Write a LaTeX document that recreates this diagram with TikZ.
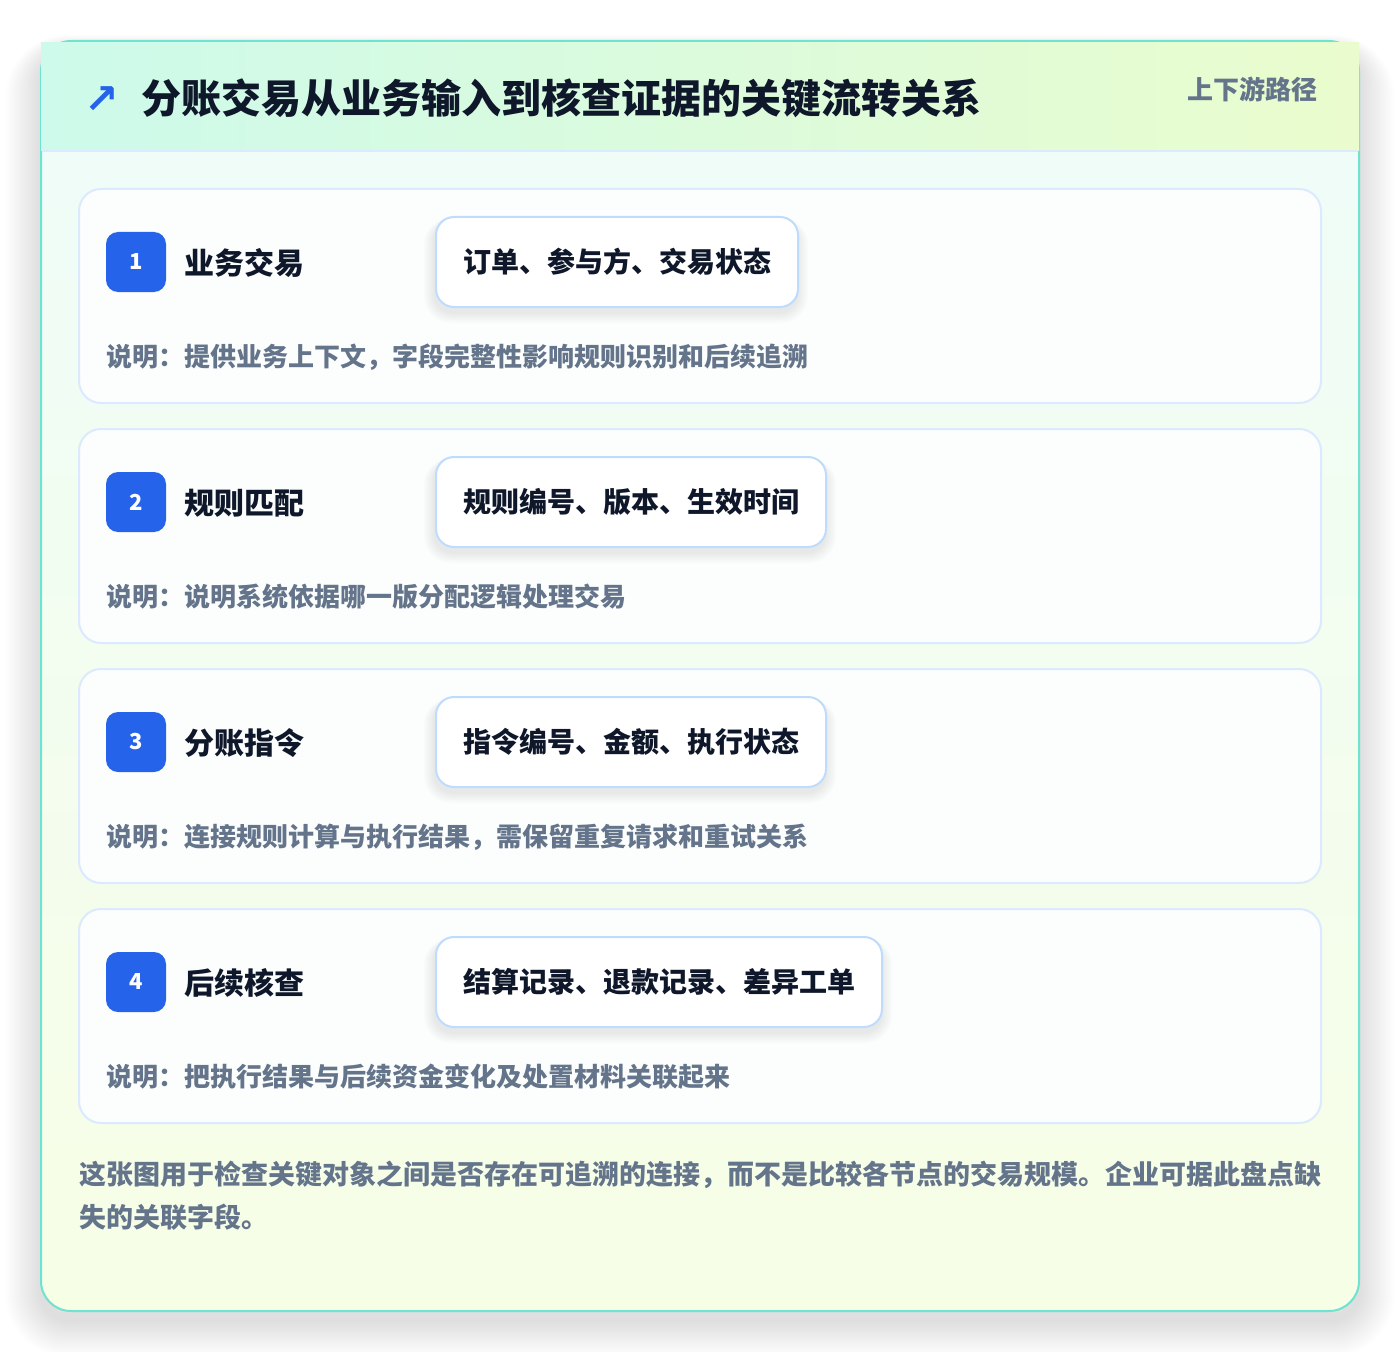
\documentclass[tikz,border=0pt]{standalone}
\usepackage{fontspec}
\newfontfamily\cjk{Noto Sans CJK SC}
\newfontfamily\sym{DejaVu Sans}
\definecolor{titlec}{HTML}{0F172A}
\definecolor{muted}{HTML}{64748B}
\definecolor{badgec}{HTML}{2563EB}
\definecolor{cardb}{HTML}{DBEAFE}
\definecolor{pillb}{HTML}{BFDBFE}
\definecolor{outerb}{HTML}{6EE3D0}
\definecolor{hdl}{HTML}{CDFAEB}
\definecolor{hdr}{HTML}{EAFCCD}
\definecolor{bodyt}{HTML}{EFFCF9}
\definecolor{bodyb}{HTML}{F7FEE6}
\definecolor{cardfill}{HTML}{FCFEFD}
\definecolor{shadowc}{HTML}{1E293B}
\tikzset{
  card/.style={draw=cardb, line width=1.5pt, fill=cardfill, rounded corners=16.5pt},
  badge/.style={fill=badgec, rounded corners=9pt, minimum width=45pt, minimum height=45pt, inner sep=0pt,
    text=white, font=\cjk\bfseries\fontsize{16.5}{18}\selectfont},
  label/.style={anchor=west, inner sep=0pt, text=titlec, font=\cjk\bfseries\fontsize{22.5}{26}\selectfont},
  pill/.style={anchor=west, draw=pillb, line width=1.5pt, fill=white, rounded corners=13.5pt,
    minimum height=67.5pt, inner xsep=20.25pt, inner ysep=0pt, text=titlec,
    font=\cjk\bfseries\fontsize{21}{24}\selectfont},
  desc/.style={anchor=west, inner sep=0pt, text=muted, font=\cjk\bfseries\fontsize{19.5}{22}\selectfont},
  foot/.style={anchor=west, inner sep=0pt, text=muted, font=\cjk\bfseries\fontsize{20.25}{24}\selectfont},
}
\begin{document}
\begin{tikzpicture}[x=0.75pt,y=-0.75pt]
\useasboundingbox (0,0) rectangle (1400,1352);
\fill[white] (0,0) rectangle (1400,1352);
% outer card soft shadow
\foreach \i in {1,...,16}{
  \fill[shadowc, opacity=0.007, rounded corners=22.5pt+\i*1.5pt]
    (41-\i*2.2,41+10-\i*1.0) rectangle (1359+\i*2.2,1311+10+\i*2.2);
}
\path[top color=bodyt, bottom color=bodyb, rounded corners=22.5pt] (41,41) rectangle (1359,1311);
\draw[outerb, line width=1.5pt, rounded corners=22.5pt] (41,41) rectangle (1359,1311);
% header band
\path[left color=hdl, right color=hdr] (41,42.5) rectangle (1359,151);
\draw[cardb, line width=1.2pt] (41.8,151) -- (1358.2,151);
\node[anchor=center, inner sep=0pt, text=badgec, font=\sym\bfseries\fontsize{31}{33}\selectfont] (icon) at (102,100) {↗};
\node[anchor=west, inner sep=0pt, text=titlec, font=\cjk\bfseries\fontsize{30}{36}\selectfont] (title) at (141,98) {分账交易从业务输入到核查证据的关键流转关系};
\node[anchor=east, inner sep=0pt, text=muted, font=\cjk\bfseries\fontsize{19.5}{22}\selectfont] (tag) at (1318,89) {上下游路径};
% cards
\foreach \n/\dy/\pw/\lab/\pilltext/\desctext in {
  1/0/362/业务交易/订单、参与方、交易状态/说明：提供业务上下文，字段完整性影响规则识别和后续追溯,
  2/240/390/规则匹配/规则编号、版本、生效时间/说明：说明系统依据哪一版分配逻辑处理交易,
  3/480/390/分账指令/指令编号、金额、执行状态/说明：连接规则计算与执行结果，需保留重复请求和重试关系,
  4/720/446/后续核查/结算记录、退款记录、差异工单/说明：把执行结果与后续资金变化及处置材料关联起来}{
  \path[card] (79,189+\dy) rectangle (1321,403+\dy);
  \foreach \k in {1,...,7}{
    \fill[shadowc, opacity=0.011, rounded corners=13.5pt+\k*1pt]
      (435-\k*1.6,217+\dy+5-\k*0.6) rectangle (435+\pw+\k*1.6,307+\dy+5+\k*1.6);
  }
  \node[badge] (b\n) at (136,262+\dy) {\n};
  \node[label] (l\n) at (184,263+\dy) {\lab};
  \node[pill] (p\n) at (435,262+\dy) {\pilltext};
  \node[desc] (d\n) at (106,357+\dy) {\desctext};
}
\node[foot] (f1) at (79,1175) {这张图用于检查关键对象之间是否存在可追溯的连接，而不是比较各节点的交易规模。企业可据此盘点缺};
\node[foot] (f2) at (79,1217) {失的关联字段。};
\end{tikzpicture}
\end{document}
